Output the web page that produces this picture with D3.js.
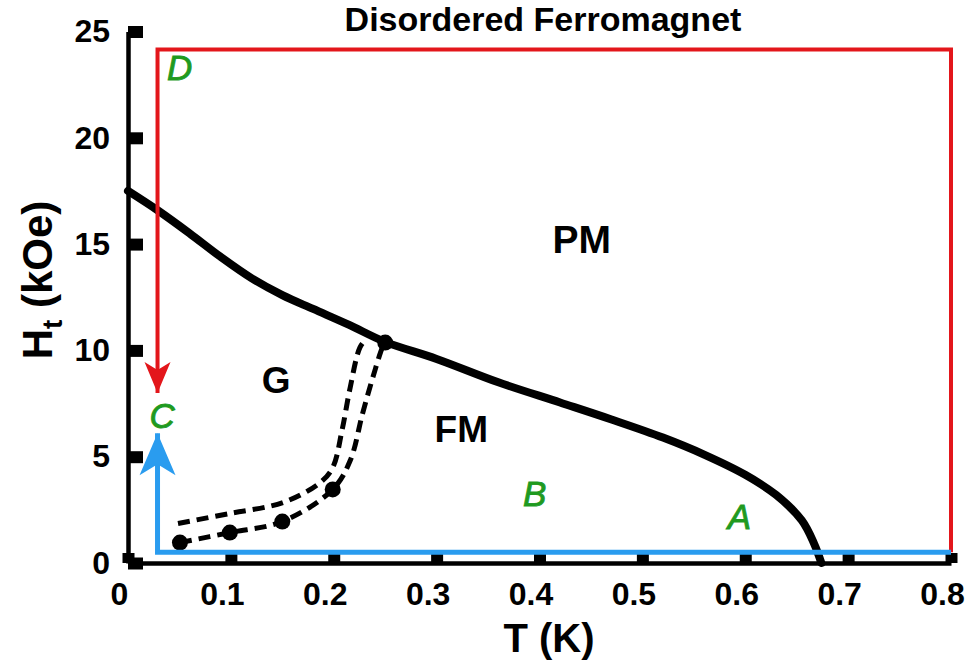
<!DOCTYPE html>
<html>
<head>
<meta charset="utf-8">
<script src="https://cdn.jsdelivr.net/npm/d3@7"></script>
<style>
  html, body { margin: 0; padding: 0; background: #fff; }
  svg { display: block; font-family: "Liberation Sans", Arial, Helvetica, sans-serif; }
</style>
</head>
<body>
<svg id="chart" width="972" height="664"></svg>
<script>
// Phase boundary separating PM from the ordered phases: [T (K), Ht (kOe)]
const boundary = [
  [0.000, 17.50], [0.030, 16.55], [0.060, 15.50], [0.090, 14.40], [0.120, 13.40],
  [0.150, 12.60], [0.180, 11.95], [0.215, 11.20], [0.250, 10.40], [0.300, 9.60],
  [0.360, 8.50], [0.420, 7.55], [0.470, 6.75], [0.520, 5.90], [0.560, 5.10],
  [0.600, 4.15], [0.630, 3.20], [0.655, 2.00], [0.667, 0.90], [0.674, 0.00]
];

// Lower G/FM crossover line (measured points marked by dots)
const lowerCrossover = [
  [0.0505, 0.96], [0.099, 1.43], [0.150, 1.95], [0.199, 3.46], [0.216, 4.82],
  [0.228, 7.03], [0.238, 8.73], [0.247, 10.10], [0.250, 10.37]
];
const lowerDots = [
  [0.0505, 0.96], [0.099, 1.43], [0.150, 1.95], [0.199, 3.46], [0.250, 10.37]
];

// Upper G/FM crossover line
const upperCrossover = [
  [0.0486, 1.86], [0.099, 2.33], [0.151, 2.85], [0.187, 3.79], [0.199, 4.49],
  [0.208, 6.23], [0.216, 8.26], [0.2255, 10.14], [0.232, 10.55]
];

// Field-cooling path D -> C (red) and zero-field path A -> B -> C (blue)
const redPath  = [[0.80, 0.5], [0.80, 24.15], [0.0287, 24.15], [0.0287, 8.0]];
const bluePath = [[0.80, 0.5], [0.0287, 0.5], [0.0287, 6.1]];

// Phase names and path letters: [text, T, Ht]
const phaseLabels = [["PM", 0.441, 14.6], ["G", 0.144, 8.0], ["FM", 0.324, 5.67]];
const pathLabels  = [["D", 0.038, 22.7], ["C", 0.021, 6.37], ["B", 0.384, 2.66], ["A", 0.583, 1.62]];

const xTicks = [0, 0.1, 0.2, 0.3, 0.4, 0.5, 0.6, 0.7, 0.8];
const yTicks = [0, 5, 10, 15, 20, 25];

const RED = "#e3161b", BLUE = "#2a9cef", GREEN = "#1f9a1f";

const svg = d3.select("#chart");
const x = d3.scaleLinear().domain([0, 0.8]).range([128, 951]);
const y = d3.scaleLinear().domain([0, 25]).range([563, 31.5]);

// Title
svg.append("text")
  .attr("x", 543).attr("y", 31)
  .attr("text-anchor", "middle")
  .attr("font-size", 34).attr("font-weight", "bold")
  .text("Disordered Ferromagnet");

// Axes with short, heavy inward tick blocks
const xAxis = d3.axisBottom(x).tickValues(xTicks)
  .tickFormat(d => d === 0 ? "0" : d3.format(".1f")(d))
  .tickSize(-10).tickSizeOuter(0).tickPadding(19);
const yAxis = d3.axisLeft(y).tickValues(yTicks)
  .tickFormat(d3.format("d"))
  .tickSize(-15).tickSizeOuter(0).tickPadding(18);

const gx = svg.append("g").attr("transform", `translate(0,${y(0)})`).call(xAxis);
const gy = svg.append("g").attr("transform", `translate(${x(0)},0)`).call(yAxis);

[gx, gy].forEach(g => {
  g.select(".domain").attr("stroke", "#000").attr("stroke-width", 4.5);
  g.selectAll(".tick line").attr("stroke", "#000").attr("stroke-width", 12);
  g.selectAll(".tick text")
    .attr("fill", "#000")
    .attr("font-family", "'Liberation Sans', Arial, Helvetica, sans-serif")
    .attr("font-size", 32).attr("font-weight", "bold");
});
gx.selectAll(".tick text").attr("dx", -9);

// Axis titles
svg.append("text")
  .attr("x", 549).attr("y", 652)
  .attr("text-anchor", "middle")
  .attr("font-size", 40).attr("font-weight", "bold")
  .text("T (K)");

const yl = svg.append("text")
  .attr("transform", "translate(52,280) rotate(-90)")
  .attr("text-anchor", "middle")
  .attr("font-size", 42).attr("font-weight", "bold");
yl.append("tspan").text("H");
yl.append("tspan").attr("font-size", 28).attr("dy", 10).text("t");
yl.append("tspan").attr("dy", -10).text(" (kOe)");

// Phase boundary
svg.append("path")
  .datum(boundary)
  .attr("d", d3.line().x(d => x(d[0])).y(d => y(d[1])).curve(d3.curveCatmullRom.alpha(0.5)))
  .attr("fill", "none").attr("stroke", "#000")
  .attr("stroke-width", 8).attr("stroke-linecap", "round");

// Crossover lines
[lowerCrossover, upperCrossover].forEach(pts => {
  svg.append("path")
    .datum(pts)
    .attr("d", d3.line().x(d => x(d[0])).y(d => y(d[1])).curve(d3.curveCatmullRom.alpha(0.5)))
    .attr("fill", "none").attr("stroke", "#000")
    .attr("stroke-width", 5).attr("stroke-dasharray", "12,7");
});
svg.selectAll("circle.pt")
  .data(lowerDots).enter().append("circle")
  .attr("class", "pt")
  .attr("cx", d => x(d[0])).attr("cy", d => y(d[1]))
  .attr("r", 8).attr("fill", "#000");

// Paths through the phase diagram
const straight = d3.line().x(d => x(d[0])).y(d => y(d[1]));
svg.append("path").datum(redPath).attr("d", straight)
  .attr("fill", "none").attr("stroke", RED).attr("stroke-width", 4)
  .attr("stroke-linejoin", "miter");
svg.append("path").datum(bluePath).attr("d", straight)
  .attr("fill", "none").attr("stroke", BLUE).attr("stroke-width", 5)
  .attr("stroke-linejoin", "miter");

// Arrowheads at the path ends
const redEnd = redPath[redPath.length - 1];
svg.append("path")
  .attr("transform", `translate(${x(redEnd[0])},${y(redEnd[1])})`)
  .attr("d", "M0,0 L-13,-31 L0,-23 L13,-31 Z")
  .attr("fill", RED);
const blueEnd = bluePath[bluePath.length - 1];
svg.append("path")
  .attr("transform", `translate(${x(blueEnd[0])},${y(blueEnd[1])})`)
  .attr("d", "M0,0 L-18,42 L0,31 L18,42 Z")
  .attr("fill", BLUE);

// Labels
svg.selectAll("text.phase")
  .data(phaseLabels).enter().append("text")
  .attr("class", "phase")
  .attr("x", d => x(d[1])).attr("y", d => y(d[2]))
  .attr("text-anchor", "middle")
  .attr("font-size", d => d[0] === "PM" ? 39 : 37).attr("font-weight", "bold")
  .text(d => d[0]);

svg.selectAll("text.pathlbl")
  .data(pathLabels).enter().append("text")
  .attr("class", "pathlbl")
  .attr("x", d => x(d[1])).attr("y", d => y(d[2]))
  .attr("font-size", 35).attr("font-style", "italic")
  .attr("fill", GREEN).attr("stroke", GREEN).attr("stroke-width", 0.9)
  .text(d => d[0]);
</script>
</body>
</html>
